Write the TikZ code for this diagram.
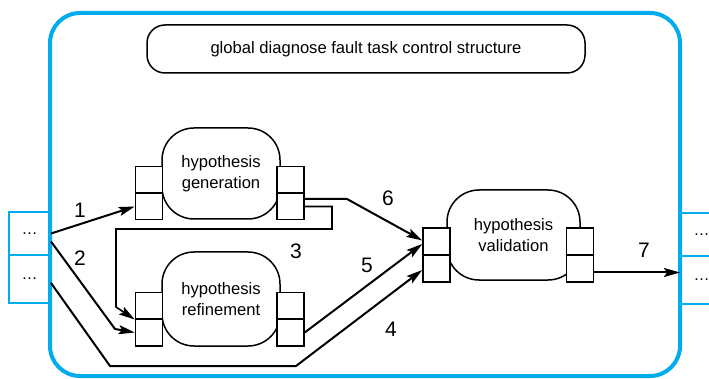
\documentclass[tikz,border=0pt]{standalone}
\usepackage{fontspec}
\setmainfont{Liberation Sans}
\usetikzlibrary{arrows.meta,calc}
\definecolor{frameblue}{RGB}{0,172,236}
\begin{document}
\begin{tikzpicture}[x=1pt,y=-1pt,
  body/.style={draw,line width=1.5pt,rounded corners=32pt,align=center,
    font=\fontsize{16.6}{21.5}\selectfont,inner sep=0pt},
  slot/.style={draw,fill=white,line width=1.5pt,minimum width=27pt,
    minimum height=26.5pt,inner sep=0pt},
  port/.style={draw=frameblue,line width=2pt,minimum width=41pt,inner sep=0pt,
    font=\fontsize{16}{16}\selectfont},
  tip/.style={-{Stealth[length=16pt,width=9pt,inset=3pt]}},
  link/.style={line width=2pt,tip},
  thinlink/.style={line width=1.6pt,tip},
  num/.style={font=\fontsize{21}{21}\selectfont,inner sep=0pt}]
\clip (0,0) rectangle (709,379);
\fill[white] (0,0) rectangle (709,379);

% ports on both sides of the frame
\node[port,minimum height=43pt] (pL1) at (29.5,233.5) {\ldots};
\node[port,minimum height=48pt] (pL2) at (29.5,279) {\ldots};
\node[port,minimum height=43pt] (pR1) at (701.5,234.5) {\ldots};
\node[port,minimum height=48pt] (pR2) at (701.5,280) {\ldots};

% outer frame
\draw[frameblue,line width=4pt,rounded corners=30pt] (50,13) rectangle (680,376);

% title box
\node[draw,line width=1.5pt,rounded corners=18pt,minimum width=438pt,
  minimum height=48pt,font=\fontsize{16.6}{18}\selectfont] (glob) at (366,49)
  {global diagnose fault task control structure};

% hypothesis generation
\node[body,minimum width=118pt,minimum height=91pt] (gen) at (221,173.5)
  {hypothesis\\generation};
\node[slot] (gLin1) at (149,180) {};
\node[slot] (gLin2) at (149,206.5) {};
\node[slot] (gRo1) at (290.5,180) {};
\node[slot] (gRo2) at (290.5,206.5) {};

% hypothesis refinement
\node[body,minimum width=118pt,minimum height=94pt] (ref) at (221,299)
  {hypothesis\\refinement};
\node[slot] (rLin1) at (149,305.5) {};
\node[slot] (rLin2) at (149,332.5) {};
\node[slot] (rRo1) at (290.5,305.5) {};
\node[slot] (rRo2) at (290.5,332.5) {};

% hypothesis validation
\node[body,minimum width=133pt,minimum height=90pt] (val) at (513.5,235)
  {hypothesis\\validation};
\node[slot] (vLin1) at (436.5,241.5) {};
\node[slot] (vLin2) at (436.5,268.5) {};
\node[slot] (vRo1) at (580,241.5) {};
\node[slot] (vRo2) at (580,268.5) {};

% connectors
\draw[link] (pL1.east) -- (gLin2.west);
\draw[link] ([yshift=-8pt]pL1.east) -- (115,329) -- (rLin2.west);
\draw[thinlink] (gRo2.east) -- (332,206.5) -- (332,229) -- (116,229)
  -- (116,307) -- (rLin1.south west);
\draw[link] ([yshift=-4pt]pL2.east) -- (110,366) -- (296,366)
  -- ([yshift=-1.5pt]vLin2.west);
\draw[link] (rRo2.east) -- ([yshift=-2.5pt]vLin1.west);
\draw[link] ([yshift=7.5pt]gRo2.east) -- (347,199) -- ([yshift=1pt]vLin1.west);
\coordinate (o7) at ([yshift=-4pt]vRo2.east);
\draw[link] (o7) -- (o7 -| pR2.west);

% connector numbers
\node[num] (n1) at (80,210) {1};
\node[num] (n2) at (80,258) {2};
\node[num] (n3) at (296,251) {3};
\node[num] (n4) at (391,329) {4};
\node[num] (n5) at (367,265) {5};
\node[num] (n6) at (388,198) {6};
\node[num] (n7) at (644,250) {7};
\end{tikzpicture}
\end{document}
